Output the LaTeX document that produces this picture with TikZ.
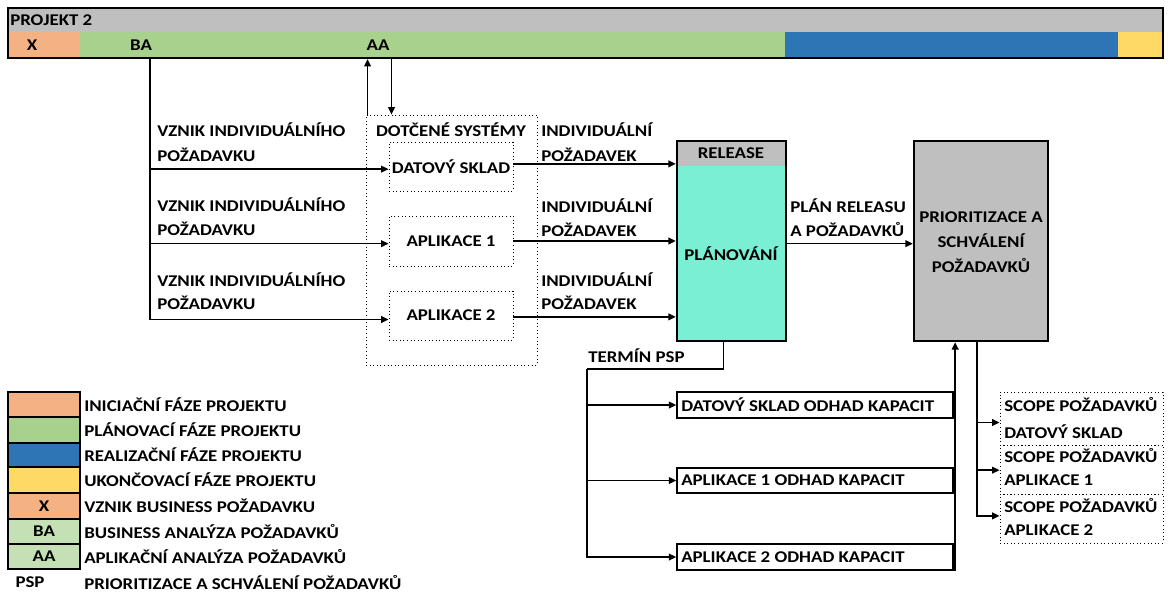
\documentclass[tikz,border=0pt]{standalone}
\usepackage{fontspec}
\setmainfont{Carlito}[FakeStretch=1.15]
\usetikzlibrary{arrows.meta,fit,calc}
\definecolor{cgray}{HTML}{BFBFBF}
\definecolor{corange}{HTML}{F4B183}
\definecolor{cgreen}{HTML}{A9D18E}
\definecolor{clgreen}{HTML}{C5E0B4}
\definecolor{cblue}{HTML}{2E75B6}
\definecolor{cyellow}{HTML}{FFD966}
\definecolor{cturq}{HTML}{7AEFD4}
\tikzset{
  every node/.style={font=\fontsize{12.3}{13}\selectfont\bfseries, inner sep=0pt},
  frame/.style={draw, line width=1.6pt, inner sep=0pt},
  thinframe/.style={draw, line width=1.2pt, inner sep=0pt},
  dotbox/.style={draw, dotted, line width=0.7pt, inner sep=0pt},
  conn/.style={line width=1.1pt},
  arr/.style={line width=1.1pt, -{Triangle[length=5.5pt,width=5pt]}},
  lbl/.style={anchor=west},
}
\begin{document}
\begin{tikzpicture}[x=0.75pt,y=-0.75pt]
\useasboundingbox (0,0) rectangle (1169,594);
% ---- top bar
\fill[cgray] (8,8) rectangle (1163,32);
\fill[corange] (8,32) rectangle (80,58);
\fill[cgreen] (80,32) rectangle (785,58);
\fill[cblue] (785,32) rectangle (1118,58);
\fill[cyellow] (1118,32) rectangle (1163,58);
\node[frame, fit={(8,8)(1163,58)}] (bar) {};
\node[lbl] (proj) at (10,20) {PROJEKT 2};
\node (x) at (32,45) {X};
\node (ba) at (141,45) {BA};
\node (aa) at (378,45) {AA};
\coordinate (baout) at (150,58);
% ---- dotted systems box
\node[dotbox, fit={(366,115)(537,365)}] (sys) {};
\node (systxt) at (451,130) {DOTČENÉ SYSTÉMY};
\node[dotbox, fit={(389,142)(513,191)}] (ds) {};
\node at (ds.center) {DATOVÝ SKLAD};
\node[dotbox, fit={(389,216)(513,266)}] (a1) {};
\node at (a1.center) {APLIKACE 1};
\node[dotbox, fit={(389,291)(513,340)}] (a2) {};
\node at (a2.center) {APLIKACE 2};
% arrows between bar and systems box
\draw[arr] ([xshift=1.5pt]sys.north west) -- ([xshift=1.5pt]sys.north west |- bar.south);
\draw[arr] ([xshift=19.5pt]sys.north west |- bar.south) -- ([xshift=19.5pt]sys.north west);
% BA branches
\draw[arr] (baout) |- ([yshift=-2pt]ds.west);
\draw[arr] (baout) |- ([yshift=-2pt]a1.west);
\draw[arr] (baout) |- ([yshift=-3pt]a2.west);
\node[lbl] at (157,130) {VZNIK INDIVIDUÁLNÍHO};
\node[lbl] at (157,155) {POŽADAVKU};
\node[lbl] at (157,205) {VZNIK INDIVIDUÁLNÍHO};
\node[lbl] at (157,229) {POŽADAVKU};
\node[lbl] at (157,280) {VZNIK INDIVIDUÁLNÍHO};
\node[lbl] at (157,303) {POŽADAVKU};
% ---- release box
\fill[cturq] (677,141) rectangle (786,341);
\fill[cgray] (677,141) rectangle (786,166);
\node[frame, line width=1.8pt, fit={(677,141)(786,341)}] (rel) {};
\node (reltxt) at (731,153) {RELEASE};
\node (plan) at (731,254) {PLÁNOVÁNÍ};
\draw[arr] ([yshift=2pt]ds.east) -- ([yshift=2pt]ds.east -| rel.west);
\draw[arr] (a1.east) -- (a1.east -| rel.west);
\draw[arr] ([yshift=-1pt]a2.east) -- ([yshift=-1pt]a2.east -| rel.west);
\node[lbl] at (541,130) {INDIVIDUÁLNÍ};
\node[lbl] at (541,155) {POŽADAVEK};
\node[lbl] at (541,206) {INDIVIDUÁLNÍ};
\node[lbl] at (541,230) {POŽADAVEK};
\node[lbl] at (541,280) {INDIVIDUÁLNÍ};
\node[lbl] at (541,303) {POŽADAVEK};
% ---- prioritization
\node[frame, line width=1.8pt, fill=cgray, fit={(914,141)(1048,341)}] (prio) {};
\node[align=center, font=\fontsize{12.3}{18.75}\selectfont\bfseries] at (981,242) {PRIORITIZACE A\\SCHVÁLENÍ\\POŽADAVKŮ};
\draw[arr] ([yshift=-2pt]rel.east) -- ([yshift=-2pt]rel.east -| prio.west);
\node[lbl] at (790,206) {PLÁN RELEASU};
\node[lbl] at (790,230) {A POŽADAVKŮ};
% ---- estimates
\node[thinframe, fit={(677,392)(953,418)}] (e1) {};
\node[lbl] at (681,405) {DATOVÝ SKLAD ODHAD KAPACIT};
\node[thinframe, fit={(677,468)(953,493)}] (e2) {};
\node[lbl] at (681,480.5) {APLIKACE 1 ODHAD KAPACIT};
\node[thinframe, fit={(677,544)(953,570)}] (e3) {};
\node[lbl] at (681,557) {APLIKACE 2 ODHAD KAPACIT};
\coordinate (tcorner) at (587,369);
\draw[conn] ([xshift=-6pt]rel.south) |- (tcorner);
\draw[arr] (tcorner) |- (e1.west);
\draw[arr] (tcorner) |- (e2.west);
\draw[arr] (tcorner) |- (e3.west);
\node[lbl] (termin) at (588,356) {TERMÍN PSP};
\draw[arr, line width=1.4pt] ([xshift=1pt]e3.south east) -- ([xshift=1pt]e3.south east |- prio.south);
% ---- scope boxes
\node[dotbox, fit={(1000,392)(1163,445)}] (s1) {};
\node[dotbox, fit={(1000,445)(1163,494)}] (s2) {};
\node[dotbox, fit={(1000,494)(1163,543)}] (s3) {};
\node[lbl] at (1004,405) {SCOPE POŽADAVKŮ};
\node[lbl] at (1004,432) {DATOVÝ SKLAD};
\node[lbl] at (1004,455) {SCOPE POŽADAVKŮ};
\node[lbl] at (1004,480) {APLIKACE 1};
\node[lbl] at (1004,505) {SCOPE POŽADAVKŮ};
\node[lbl] at (1004,530) {APLIKACE 2};
\coordinate (sdown) at ([xshift=48pt]prio.south west);
\draw[arr] (sdown) |- ([yshift=-3pt]s1.west);
\draw[arr] (sdown) |- ([yshift=-0.5pt]s2.west);
\draw[arr] (sdown) |- ([yshift=2pt]s3.west);
% ---- legend
\fill[corange] (8,392) rectangle (80,417);
\fill[cgreen] (8,417) rectangle (80,443);
\fill[cblue] (8,443) rectangle (80,467);
\fill[cyellow] (8,467) rectangle (80,493);
\fill[corange] (8,493) rectangle (80,519);
\fill[clgreen] (8,519) rectangle (80,544);
\fill[clgreen] (8,544) rectangle (80,569);
\foreach \yy in {417,443,467,493,519,544} \draw[line width=1.2pt] (8,\yy) -- (80,\yy);
\node[frame, fit={(8,392)(80,569)}] (legend) {};
\node at (44,506) {X};
\node at (44,531) {BA};
\node at (44,556) {AA};
\node at (30,582) {PSP};
\node[lbl] at (84,405) {INICIAČNÍ FÁZE PROJEKTU};
\node[lbl] at (84,430) {PLÁNOVACÍ FÁZE PROJEKTU};
\node[lbl] at (84,455) {REALIZAČNÍ FÁZE PROJEKTU};
\node[lbl] at (84,480) {UKONČOVACÍ FÁZE PROJEKTU};
\node[lbl] at (84,506) {VZNIK BUSINESS POŽADAVKU};
\node[lbl] at (84,531) {BUSINESS ANALÝZA POŽADAVKŮ};
\node[lbl] at (84,556) {APLIKAČNÍ ANALÝZA POŽADAVKŮ};
\node[lbl] at (84,582) {PRIORITIZACE A SCHVÁLENÍ POŽADAVKŮ};
\end{tikzpicture}
\end{document}
